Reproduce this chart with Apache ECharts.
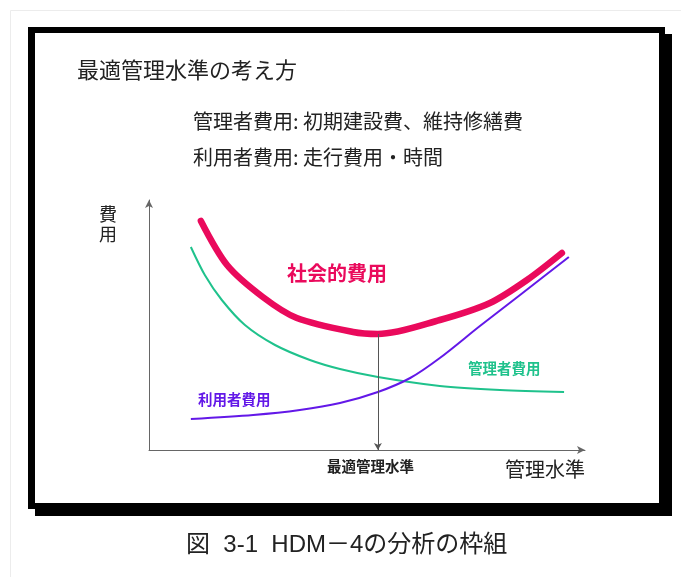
<!DOCTYPE html>
<html>
<head>
<meta charset="utf-8">
<script src="https://cdn.jsdelivr.net/npm/echarts@6/dist/echarts.min.js"></script>
<style>
  html, body { margin: 0; padding: 0; background: #ffffff; }
  #chart { width: 681px; height: 577px; }
</style>
</head>
<body>
<div id="chart"></div>
<script>
// Management level (x) vs. cost (y), arbitrary 0–100 units
const socialCost = [
  [11.9, 91.6], [17.9, 74.0], [26.1, 61.2], [33.9, 52.8], [46.8, 47.2],
  [52.5, 46.4], [66.7, 52.0], [78.2, 58.8], [86.7, 68.0], [94.7, 78.8]
];
const managerCost = [
  [9.6, 81.2], [12.8, 70.0], [16.7, 60.0], [22.0, 50.0], [28.9, 42.0],
  [36.9, 36.0], [43.8, 32.4], [52.5, 29.2], [66.7, 25.6], [80.5, 24.0], [95.2, 23.2]
];
const userCost = [
  [9.6, 12.4], [23.9, 14.0], [34.6, 16.0], [43.8, 18.8], [52.5, 23.2],
  [59.9, 28.8], [66.7, 36.8], [75.9, 49.6], [85.1, 62.0], [96.3, 77.2]
];
const optimum = [52.5, 46.4];

const seriesNames = ['社会的費用', '管理者費用', '利用者費用'];
const titleText = '最適管理水準の考え方';
const noteLines = ['管理者費用: 初期建設費、維持修繕費', '利用者費用: 走行費用・時間'];
const yAxisName = '費用';
const xAxisName = '管理水準';
const optimumName = '最適管理水準';
const caption = '図  3-1  HDM－4の分析の枠組';

const FONT = '"Noto Sans CJK JP", "Noto Sans", sans-serif';
const CAPTION_FONT = '"Liberation Sans", "Noto Sans CJK JP", sans-serif';
const RED = '#ea0a5c', GREEN = '#1fc28c', PURPLE = '#6318e8';

const chart = echarts.init(document.getElementById('chart'), null, { renderer: 'canvas' });

chart.setOption({
  backgroundColor: '#ffffff',
  animation: false,
  textStyle: { fontFamily: FONT },
  grid: { left: 149, right: 96, top: 200, bottom: 127 },
  xAxis: {
    type: 'value', min: 0, max: 100,
    axisLine: { show: true, lineStyle: { color: '#666', width: 1 }, symbol: ['none', 'arrow'], symbolSize: [6, 8] },
    axisTick: { show: false }, axisLabel: { show: false }, splitLine: { show: false }
  },
  yAxis: {
    type: 'value', min: 0, max: 100,
    axisLine: { show: true, lineStyle: { color: '#666', width: 1 }, symbol: ['none', 'arrow'], symbolSize: [6, 8] },
    axisTick: { show: false }, axisLabel: { show: false }, splitLine: { show: false }
  },
  graphic: [
    // page edge
    { type: 'polyline', z: 0, shape: { points: [[10.5, 577], [10.5, 10.5], [681, 10.5]] }, style: { stroke: '#ececec', lineWidth: 1, fill: null } },
    // framed panel with drop shadow
    { type: 'rect', z: 0, shape: { x: 35, y: 34, width: 637, height: 482 }, style: { fill: '#000' } },
    { type: 'rect', z: 0, shape: { x: 28, y: 27, width: 637, height: 482 }, style: { fill: '#000' } },
    { type: 'rect', z: 0, shape: { x: 35, y: 33, width: 624, height: 470 }, style: { fill: '#fff' } },
    // headings
    { type: 'text', z: 10, left: 77, top: 59, style: { text: titleText, font: '22px ' + FONT, fill: '#222' } },
    { type: 'text', z: 10, left: 193, top: 111, style: { text: noteLines[0], font: '20px ' + FONT, fill: '#222' } },
    { type: 'text', z: 10, left: 193, top: 147, style: { text: noteLines[1], font: '20px ' + FONT, fill: '#222' } },
    // axis names
    { type: 'text', z: 10, left: 99, top: 204, style: { text: yAxisName.split('').join('\n'), font: '18px ' + FONT, fill: '#222', lineHeight: 20 } },
    { type: 'text', z: 10, left: 505, top: 459, style: { text: xAxisName, font: '20px ' + FONT, fill: '#222' } },
    { type: 'text', z: 10, left: 327, top: 459, style: { text: optimumName, font: 'bold 14.5px ' + FONT, fill: '#222' } },
    // curve labels
    { type: 'text', z: 10, left: 287, top: 263, style: { text: seriesNames[0], font: 'bold 20px ' + FONT, fill: RED } },
    { type: 'text', z: 10, left: 468, top: 361, style: { text: seriesNames[1], font: 'bold 14.5px ' + FONT, fill: GREEN } },
    { type: 'text', z: 10, left: 198, top: 392, style: { text: seriesNames[2], font: 'bold 14.5px ' + FONT, fill: PURPLE } },
    // caption
    { type: 'text', z: 10, left: 186, top: 533, style: { text: caption, font: '24px ' + CAPTION_FONT, fill: '#222' } }
  ],
  series: [
    {
      name: seriesNames[1], type: 'line', data: managerCost, smooth: 0.3, symbol: 'none', z: 3,
      lineStyle: { color: GREEN, width: 2 }
    },
    {
      name: seriesNames[2], type: 'line', data: userCost, smooth: 0.3, symbol: 'none', z: 3,
      lineStyle: { color: PURPLE, width: 2 }
    },
    {
      name: seriesNames[0], type: 'line', data: socialCost, smooth: 0.3, symbol: 'none', z: 4,
      lineStyle: { color: RED, width: 6.5, cap: 'round' },
      markLine: {
        silent: true, symbol: ['none', 'arrow'], symbolSize: [6, 7],
        label: { show: false },
        lineStyle: { color: '#555', width: 1, type: 'solid' },
        data: [[{ coord: optimum }, { coord: [optimum[0], 0] }]]
      }
    }
  ]
});
</script>
</body>
</html>
